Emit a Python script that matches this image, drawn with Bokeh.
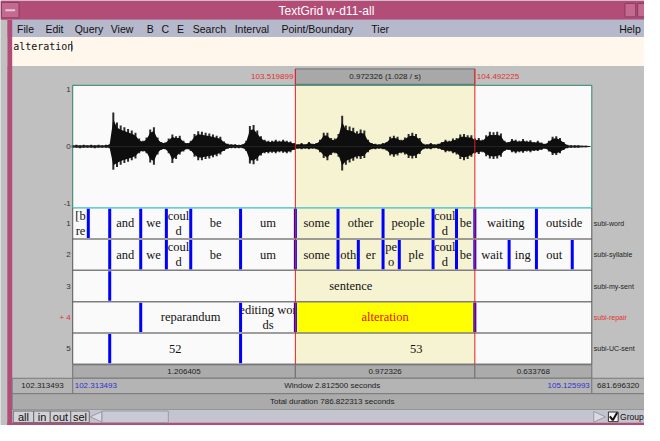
import numpy as np
from bokeh.plotting import figure
from bokeh.models import Range1d
from bokeh.core.properties import value
from bokeh.embed import file_html
from bokeh.resources import INLINE

# ---------------- data ----------------
WIN_START = 102.313493
WIN_END = 105.125993
SEL_START = 103.519899
SEL_END = 104.492225
FRAME_STEP = 0.02  # seconds between amplitude-envelope frames

wave_upper = [
    .02, .03, .02, .03, .02, .03, .02, .03, .02, .03,
    .04, .60, .42, .37, .34, .31, .28, .24, .14, .10,
    .16, .30, .34, .16, .08, .07, .14, .21, .18, .19,
    .10, .06, .10, .22, .27, .26, .24, .23, .21, .19,
    .17, .09, .05, .04, .04, .03, .04, .10, .36, .38,
    .28, .18, .12, .10, .10, .12, .10, .12, .10, .09,
    .06, .04, .06, .04, .08, .05, .06, .12, .24, .24,
    .15, .14, .22, .54, .37, .35, .33, .27, .30, .28,
    .12, .06, .05, .04, .06, .08, .17, .19, .17, .12,
    .16, .22, .24, .22, .15, .05, .04, .06, .04, .05,
    .08, .12, .10, .14, .15, .21, .22, .20, .20, .14,
    .15, .12, .20, .26, .25, .26, .23, .10, .08, .13,
    .12, .10, .13, .10, .11, .08, .10, .07, .05, .10,
    .17, .18, .15, .08, .03, .02, .02, .02, .015, .015,
    .01,
]
wave_lower = [
    .02, .02, .03, .02, .02, .02, .03, .02, .02, .02,
    .03, .41, .36, .32, .29, .27, .24, .21, .12, .09,
    .12, .28, .32, .14, .06, .05, .12, .29, .22, .14,
    .09, .05, .08, .18, .24, .24, .22, .21, .19, .17,
    .14, .08, .04, .03, .03, .03, .03, .08, .30, .31,
    .25, .16, .12, .12, .11, .12, .10, .11, .12, .10,
    .06, .04, .05, .04, .05, .04, .05, .10, .20, .24,
    .15, .12, .18, .42, .32, .28, .25, .21, .22, .20,
    .10, .05, .05, .04, .05, .07, .16, .18, .16, .12,
    .14, .20, .21, .20, .13, .05, .04, .05, .03, .04,
    .06, .10, .09, .12, .14, .22, .24, .22, .18, .12,
    .13, .10, .17, .21, .22, .21, .18, .08, .06, .10,
    .12, .10, .11, .09, .10, .08, .08, .06, .04, .09,
    .15, .15, .12, .06, .03, .02, .02, .02, .015, .015,
    .01,
]

word_bounds = [102.398, 102.514, 102.682, 102.821, 102.953, 103.223, SEL_START,
               103.751, 103.995, 104.266, 104.393, SEL_END, 104.826]
word_labels = ["[b\nre", "", "and", "we", "coul\nd", "be", "um", "some", "other",
               "people", "coul\nd", "be", "waiting", "outside"]

syll_bounds = [102.514, 102.682, 102.821, 102.953, 103.223, SEL_START, 103.751,
               103.861, 103.995, 104.083, 104.266, 104.393, SEL_END, 104.678,
               104.826, 105.020]
syll_labels = ["", "and", "we", "coul\nd", "be", "um", "some", "oth", "er", "pe\no",
               "ple", "coul\nd", "be", "wait", "ing", "out", ""]

sent_bounds = [102.514]
sent_labels = ["", "sentence"]

repair_bounds = [102.682, 103.223, SEL_START, SEL_END]
repair_labels = ["", "reparandum", "editing wor\nds", "alteration", ""]

uc_bounds = [102.514, 103.223]
uc_labels = ["", "52", "53"]

tier_names = ["subi-word", "subi-syllable", "subi-my-sent", "subi-repair", "subi-UC-sent"]
tier_numbers = ["1", "2", "3", "+ 4", "5"]
SELECTED_TIER = 3

amp_ticks = [1, 0, -1]
amp_tick_labels = ["1", "0", "-1"]

title_label = "TextGrid w-d11-all"
menu_items = ["File", "Edit", "Query", "View", "B", "C", "E", "Search", "Interval",
              "Point/Boundary", "Tier"]
help_label = "Help"
text_content = "alteration"
sel_left_label = "103.519899"
sel_right_label = "104.492225"
sel_info_label = "0.972326 (1.028 / s)"
part_durations = ["1.206405", "0.972326", "0.633768"]
window_start_label = "102.313493"
window_end_label = "105.125993"
window_label = "Window 2.812500 seconds"
total_label = "Total duration 786.822313 seconds"
right_total_label = "681.696320"
buttons = ["all", "in", "out", "sel"]
group_label = "Group"

# ---------------- layout (reference pixel units) ----------------
REF_W, REF_H = 660, 441
FRAME_L, FRAME_R = 74, 606
WAVE_TOP, WAVE_BOT = 88, 215
WAVE_ZERO_Y, WAVE_PX_PER_UNIT = 151.5, 59.0
TIER_EDGES = [215, 247.5, 280, 312.5, 345, 377.5]
MENU_X = [17, 46, 76, 113, 150, 165, 181, 197, 240, 288, 380]
BTN_EDGES = [13, 34, 51, 72, 91]

SERIF = value("Liberation Serif")
SANS = value("Liberation Sans")
MONO = value("DejaVu Sans Mono")

p = figure(width=644, height=425, x_range=Range1d(0, REF_W), y_range=Range1d(REF_H, 0),
           output_backend="svg", toolbar_location=None, min_border=0,
           x_axis_location=None, y_axis_location=None,
           background_fill_color="#C0C0C0", border_fill_color="#C0C0C0")
p.grid.visible = False
p.outline_line_color = None

spp = (WIN_END - WIN_START) / (FRAME_R - FRAME_L)
p.extra_x_ranges = {"t": Range1d(WIN_START - FRAME_L * spp, WIN_START + (REF_W - FRAME_L) * spp)}
p.extra_y_ranges = {"amp": Range1d(start=(WAVE_ZERO_Y - REF_H) / WAVE_PX_PER_UNIT,
                                   end=WAVE_ZERO_Y / WAVE_PX_PER_UNIT)}

# ---- window chrome ----
p.quad(left=0, right=REF_W, top=0, bottom=20, fill_color="#B24D78", line_color=None)
p.quad(left=1, right=19, top=2, bottom=18, fill_color="#C46A90", line_color="#8E3A5E")
p.segment(x0=5, x1=15, y0=10, y1=10, line_color="#E8C8D6", line_width=2)
p.quad(left=640, right=651, top=3, bottom=17, fill_color="#C46A90", line_color="#8E3A5E")
p.quad(left=653, right=664, top=3, bottom=17, fill_color="#C46A90", line_color="#8E3A5E")
p.text(x=[334], y=[10.5], text=[title_label], text_align="center", text_baseline="middle",
       text_font=SANS, text_font_size="12px", text_color="white")
p.quad(left=7, right=REF_W, top=20, bottom=38, fill_color="#B5B9CB", line_color=None)
p.text(x=MENU_X, y=[30] * len(menu_items), text=menu_items, text_baseline="middle",
       text_font=SANS, text_font_size="10.5px", text_color="#111111")
p.text(x=[634], y=[30], text=[help_label], text_baseline="middle",
       text_font=SANS, text_font_size="10.5px", text_color="#111111")
p.quad(left=7, right=REF_W, top=38, bottom=68, fill_color="#FFF7EC", line_color=None)
p.text(x=[13], y=[47.5], text=[text_content], text_baseline="middle",
       text_font=MONO, text_font_size="10px", text_color="#111111")
p.segment(x0=73, x1=73, y0=42, y1=53, line_color="#333333", line_width=1)
p.quad(left=7, right=12, top=20, bottom=REF_H, fill_color="#B24D78", line_color=None)
p.quad(left=7, right=REF_W, top=438, bottom=REF_H, fill_color="#B24D78", line_color=None)

# ---- selection header ----
p.text(x=[SEL_START], y=[79], text=[sel_left_label], x_range_name="t", text_align="right",
       x_offset=-2, text_baseline="middle", text_font=SANS, text_font_size="8px",
       text_color="#E03030")
p.text(x=[SEL_END], y=[79], text=[sel_right_label], x_range_name="t", text_align="left",
       x_offset=2, text_baseline="middle", text_font=SANS, text_font_size="8px",
       text_color="#E03030")
p.quad(left=[SEL_START], right=[SEL_END], top=71, bottom=87, x_range_name="t",
       fill_color="#A8A8A8", line_color="#6E6E6E")
p.text(x=[(SEL_START + SEL_END) / 2], y=[79], text=[sel_info_label], x_range_name="t",
       text_align="center", text_baseline="middle", text_font=SANS, text_font_size="8px",
       text_color="#222222")

# ---- waveform & tier backgrounds ----
p.quad(left=[WIN_START], right=[WIN_END], top=WAVE_TOP, bottom=TIER_EDGES[-1],
       x_range_name="t", fill_color="#FAFAFA", line_color=None)
p.quad(left=[SEL_START], right=[SEL_END], top=WAVE_TOP, bottom=TIER_EDGES[-1],
       x_range_name="t", fill_color="#F6F3D2", line_color=None)
p.quad(left=[SEL_START], right=[SEL_END], top=TIER_EDGES[SELECTED_TIER],
       bottom=TIER_EDGES[SELECTED_TIER + 1], x_range_name="t", fill_color="#FFFF00",
       line_color=None)

times = WIN_START + np.arange(len(wave_upper)) * FRAME_STEP
lower = [-v for v in wave_lower]
core_up = [0.8 * v for v in wave_upper]
core_lo = [-0.8 * v for v in wave_lower]
# outer fringe: one vertical stroke per frame reaching the envelope
p.segment(x0=times, x1=times, y0=lower, y1=wave_upper, x_range_name="t", y_range_name="amp",
          line_color="#2A2A2A", line_width=2)
# dense core
p.varea(x=times, y1=core_lo, y2=core_up, x_range_name="t", y_range_name="amp",
        fill_color="#0E0E0E")
p.line(x=times, y=[0] * len(times), x_range_name="t", y_range_name="amp",
       line_color="#222222", line_width=1.2)
p.text(x=[FRAME_L - 2] * 3, y=amp_ticks, text=amp_tick_labels, y_range_name="amp",
       text_align="right", text_baseline="middle", text_font=SANS, text_font_size="8px",
       text_color="#333333")
p.quad(left=FRAME_L, right=FRAME_R, top=WAVE_TOP, bottom=WAVE_BOT, fill_color=None,
       line_color="#2E7F6E", line_width=1)
p.segment(x0=FRAME_L, x1=FRAME_R, y0=WAVE_BOT, y1=WAVE_BOT, line_color="#66D0D0",
          line_width=1.5)

# ---- tiers ----
tiers = [(word_bounds, word_labels), (syll_bounds, syll_labels),
         (sent_bounds, sent_labels), (repair_bounds, repair_labels),
         (uc_bounds, uc_labels)]
for k, (bnds, labs) in enumerate(tiers):
    top, bot = TIER_EDGES[k], TIER_EDGES[k + 1]
    starts = [WIN_START] + bnds
    ends = bnds + [WIN_END]
    xs = [(s + e) / 2 for s, e in zip(starts, ends)]
    cols = ["#E01010" if (k == SELECTED_TIER and s == SEL_START) else "#111111"
            for s in starts]
    p.text(x=xs, y=[(top + bot) / 2] * len(xs), text=labs, x_range_name="t",
           text_align="center", text_baseline="middle", text_font=SERIF,
           text_font_size="12.5px", text_color=cols, text_line_height=1.05)
    p.segment(x0=bnds, x1=bnds, y0=[top + 1] * len(bnds), y1=[bot - 1] * len(bnds),
              x_range_name="t", line_color="#0000FF", line_width=3)
    p.text(x=[FRAME_L - 2], y=[(top + bot) / 2], text=[tier_numbers[k]], text_align="right",
           text_baseline="middle", text_font=SANS, text_font_size="8px",
           text_color="#E03030" if k == SELECTED_TIER else "#333333")
    p.text(x=[FRAME_R + 2], y=[(top + bot) / 2], text=[tier_names[k]], text_align="left",
           text_baseline="middle", text_font=SANS, text_font_size="7px",
           text_color="#E03030" if k == SELECTED_TIER else "#222222")

p.segment(x0=[FRAME_L] * 5, x1=[FRAME_R] * 5, y0=TIER_EDGES[1:], y1=TIER_EDGES[1:],
          line_color="#7E7E7E", line_width=1.5)
p.segment(x0=[FRAME_L, FRAME_R], x1=[FRAME_L, FRAME_R], y0=[WAVE_BOT] * 2,
          y1=[TIER_EDGES[-1]] * 2, line_color="#555555", line_width=1)
p.segment(x0=[SEL_START, SEL_END], x1=[SEL_START, SEL_END], y0=[71, 71],
          y1=[TIER_EDGES[-1]] * 2, x_range_name="t", line_color="#E02020", line_width=1)

# ---- duration rows ----
part_edges = [WIN_START, SEL_START, SEL_END, WIN_END]
p.quad(left=part_edges[:-1], right=part_edges[1:], top=378, bottom=392, x_range_name="t",
       fill_color="#ABABAB", line_color="#707070")
p.text(x=[(a + b) / 2 for a, b in zip(part_edges[:-1], part_edges[1:])], y=[385] * 3,
       text=part_durations, x_range_name="t", text_align="center", text_baseline="middle",
       text_font=SANS, text_font_size="8px", text_color="#222222")
p.quad(left=[12, FRAME_L, FRAME_R], right=[FRAME_L, FRAME_R, REF_W], top=392, bottom=408,
       fill_color="#B4B4B4", line_color="#7A7A7A")
p.text(x=[43], y=[400], text=[window_start_label], text_align="center",
       text_baseline="middle", text_font=SANS, text_font_size="8px", text_color="#222222")
p.text(x=[WIN_START], y=[400], text=[window_start_label], x_range_name="t", x_offset=2,
       text_align="left", text_baseline="middle", text_font=SANS, text_font_size="8px",
       text_color="#3030D0")
p.text(x=[WIN_END], y=[400], text=[window_end_label], x_range_name="t", x_offset=-2,
       text_align="right", text_baseline="middle", text_font=SANS, text_font_size="8px",
       text_color="#3030D0")
p.text(x=[340], y=[400], text=[window_label], text_align="center", text_baseline="middle",
       text_font=SANS, text_font_size="8px", text_color="#222222")
p.text(x=[633], y=[400], text=[right_total_label], text_align="center",
       text_baseline="middle", text_font=SANS, text_font_size="8px", text_color="#222222")
p.quad(left=12, right=REF_W, top=408, bottom=425, fill_color="#ABABAB", line_color="#7A7A7A")
p.text(x=[340], y=[416.5], text=[total_label], text_align="center", text_baseline="middle",
       text_font=SANS, text_font_size="8px", text_color="#222222")

# ---- scroll bar row ----
p.quad(left=12, right=REF_W, top=425, bottom=438, fill_color="#C4C4CE", line_color=None)
p.quad(left=BTN_EDGES[:-1], right=BTN_EDGES[1:], top=426, bottom=438,
       fill_color="#D2D2D6", line_color="#6A6A70")
p.text(x=[(a + b) / 2 for a, b in zip(BTN_EDGES[:-1], BTN_EDGES[1:])], y=[432] * 4,
       text=buttons, text_align="center", text_baseline="middle", text_font=SANS,
       text_font_size="11px", text_color="#111111")
p.patch(x=[92, 104, 104], y=[432, 426.5, 437.5], fill_color="#DADAE2", line_color="#9A9AA6")
p.quad(left=104, right=172, top=426, bottom=438, fill_color="#CACAD4", line_color="#9A9AA6")
p.patch(x=[620, 608, 608], y=[432, 426.5, 437.5], fill_color="#DADAE2", line_color="#9A9AA6")
p.quad(left=623, right=633, top=427, bottom=437, fill_color="#F4F4F4", line_color="#333333")
p.line(x=[624.5, 627.5, 632], y=[431.5, 435.5, 427.5], line_color="#111111", line_width=2)
p.text(x=[635], y=[432], text=[group_label], text_baseline="middle", text_font=SANS,
       text_font_size="8.5px", text_color="#111111")

open("out.html", "w").write(file_html(p, INLINE))
